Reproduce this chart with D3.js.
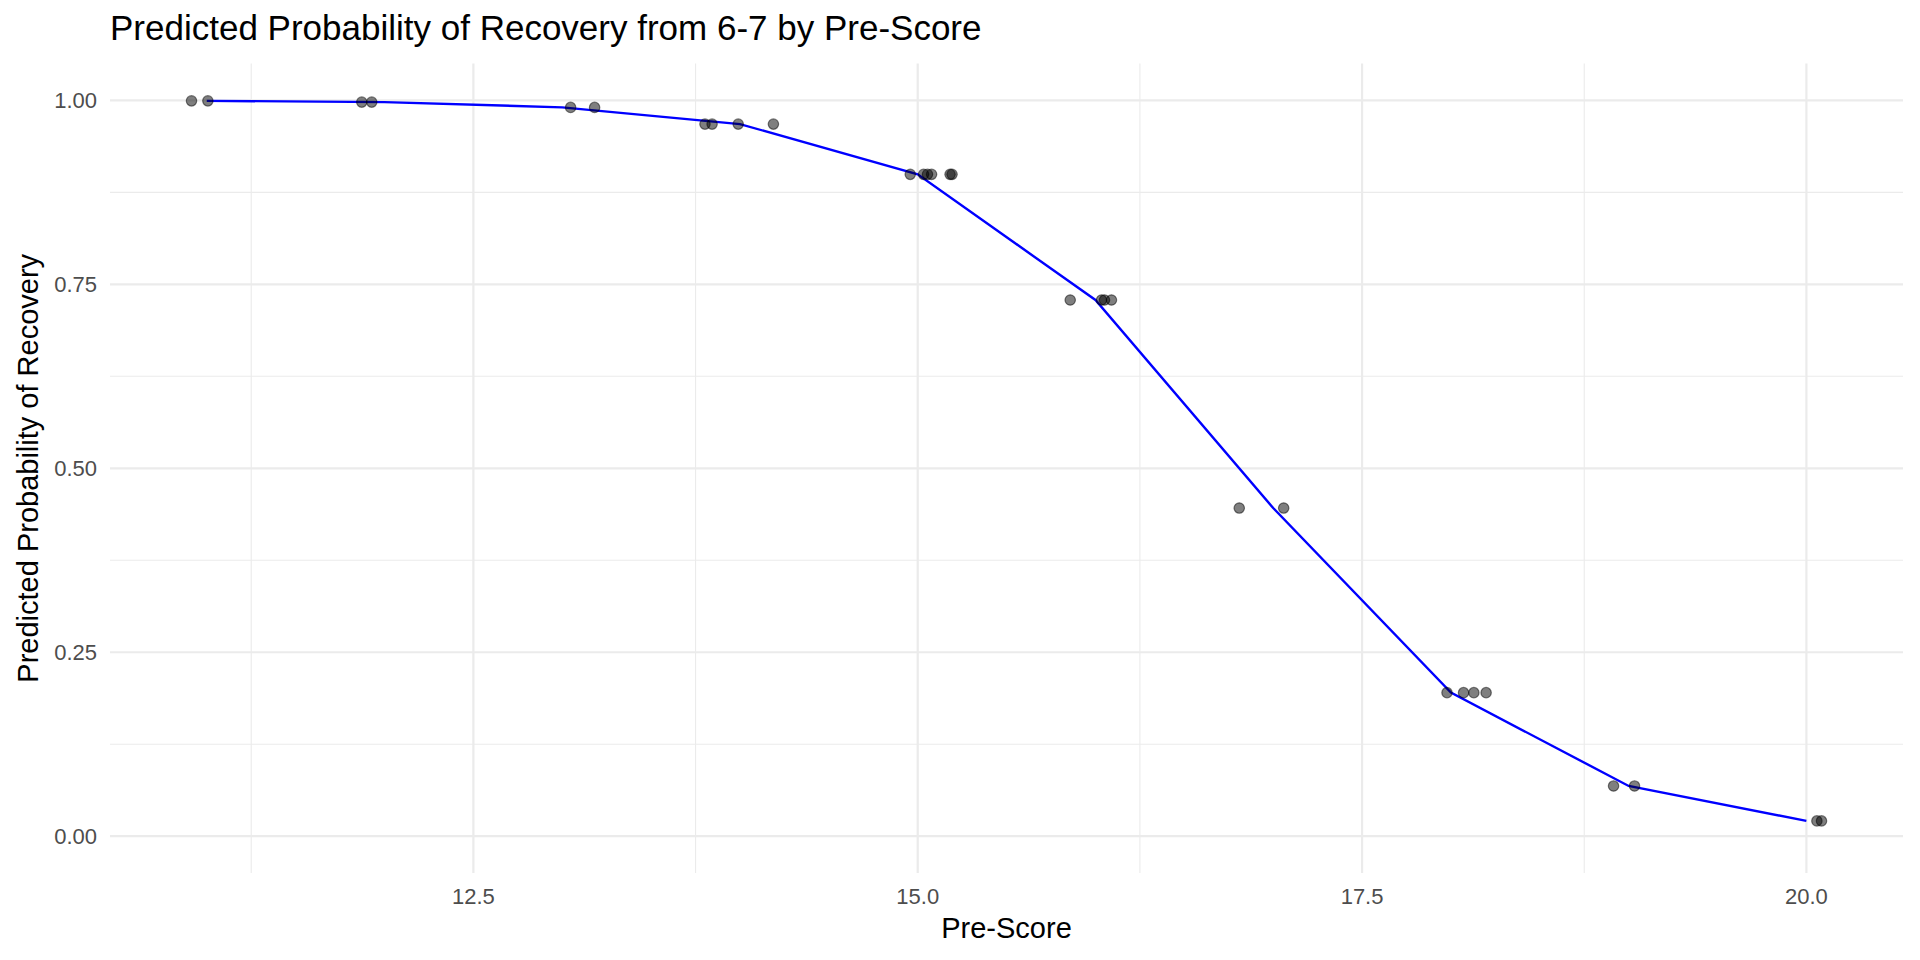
<!DOCTYPE html>
<html>
<head>
<meta charset="utf-8">
<script src="https://cdnjs.cloudflare.com/ajax/libs/d3/7.8.5/d3.min.js"></script>
<style>
  html, body { margin: 0; padding: 0; background: #fff; }
  svg { display: block; font-family: "Liberation Sans", Arial, sans-serif; }
</style>
</head>
<body>
<svg class="canvas"></svg>
<script>
// fitted curve, one value per whole pre-score
var preScore = [11, 12, 13, 14, 15, 16, 17, 18, 19, 20]
var predProb = [0.9994, 0.9977, 0.9905, 0.9678, 0.8995, 0.7287, 0.446, 0.1951, 0.0683, 0.0208]

// observed cases (jittered sideways)
var pointScore = [10.914, 11.006,
    11.872, 11.928,
    13.047, 13.182,
    13.803, 13.843, 13.990, 14.188,
    14.958, 15.033, 15.055, 15.078, 15.182, 15.193,
    15.858, 16.034, 16.051, 16.090,
    16.809, 17.059,
    17.978, 18.071, 18.129, 18.198,
    18.915, 19.033,
    20.059, 20.085]
var pointProb = [0.9994, 0.9994,
    0.9977, 0.9977,
    0.9905, 0.9905,
    0.9678, 0.9678, 0.9678, 0.9678,
    0.8995, 0.8995, 0.8995, 0.8995, 0.8995, 0.8995,
    0.7287, 0.7287, 0.7287, 0.7287,
    0.446, 0.446,
    0.1951, 0.1951, 0.1951, 0.1951,
    0.0683, 0.0683,
    0.0208, 0.0208]

var xMajor = [12.5, 15, 17.5, 20]
var xMinor = [11.25, 13.75, 16.25, 18.75]
var yMajor = [0, 0.25, 0.5, 0.75, 1]
var yMinor = [0.125, 0.375, 0.625, 0.875]

var width = 1920
var height = 960
// panel edges (window.top is reserved, so prefix them)
var pLeft = 110, pRight = 1903, pTop = 63.6, pBottom = 873

var svg = d3.select('.canvas')
    .attr('width', width)
    .attr('height', height)

// ggplot style 5% expansion
var ext = d3.extent(pointScore.concat(preScore))
var pad = (ext[1] - ext[0]) * 0.05
var x = d3.scaleLinear().domain([ext[0] - pad, ext[1] + pad]).range([pLeft, pRight])
var y = d3.scaleLinear().domain([-0.05, 1.05]).range([pBottom, pTop])

var grid = svg.append('g')
grid.selectAll('.xmin').data(xMinor).enter().append('line')
    .attr('x1', d => x(d)).attr('x2', d => x(d))
    .attr('y1', pTop).attr('y2', pBottom)
    .attr('stroke', '#ebebeb').attr('stroke-width', 1.1)
grid.selectAll('.ymin').data(yMinor).enter().append('line')
    .attr('y1', d => y(d)).attr('y2', d => y(d))
    .attr('x1', pLeft).attr('x2', pRight)
    .attr('stroke', '#ebebeb').attr('stroke-width', 1.1)
grid.selectAll('.xmaj').data(xMajor).enter().append('line')
    .attr('x1', d => x(d)).attr('x2', d => x(d))
    .attr('y1', pTop).attr('y2', pBottom)
    .attr('stroke', '#ebebeb').attr('stroke-width', 2.2)
grid.selectAll('.ymaj').data(yMajor).enter().append('line')
    .attr('y1', d => y(d)).attr('y2', d => y(d))
    .attr('x1', pLeft).attr('x2', pRight)
    .attr('stroke', '#ebebeb').attr('stroke-width', 2.2)

// tick labels
svg.append('g').selectAll('text').data(xMajor).enter().append('text')
    .attr('x', d => x(d))
    .attr('y', 904)
    .attr('text-anchor', 'middle')
    .attr('font-size', 22)
    .attr('fill', '#4d4d4d')
    .text(d => d3.format('.1f')(d))

svg.append('g').selectAll('text').data(yMajor).enter().append('text')
    .attr('x', 97)
    .attr('y', d => y(d) + 8)
    .attr('text-anchor', 'end')
    .attr('font-size', 22)
    .attr('fill', '#4d4d4d')
    .text(d => d3.format('.2f')(d))

// fitted line
var line = d3.line()
    .x((d, i) => x(preScore[i]))
    .y(d => y(d))
svg.append('path')
    .datum(predProb)
    .attr('d', line)
    .attr('fill', 'none')
    .attr('stroke', '#0000ff')
    .attr('stroke-width', 2.4)

// points
svg.append('g').selectAll('circle').data(pointScore).enter().append('circle')
    .attr('cx', d => x(d))
    .attr('cy', (d, i) => y(pointProb[i]))
    .attr('r', 5.2)
    .attr('fill', '#000')
    .attr('fill-opacity', 0.5)
    .attr('stroke', '#000')
    .attr('stroke-opacity', 0.5)
    .attr('stroke-width', 1.2)

// titles
svg.append('text')
    .attr('x', 110)
    .attr('y', 40)
    .attr('font-size', 35)
    .attr('fill', '#000')
    .text('Predicted Probability of Recovery from 6-7 by Pre-Score')

svg.append('text')
    .attr('x', (pLeft + pRight) / 2)
    .attr('y', 938)
    .attr('text-anchor', 'middle')
    .attr('font-size', 29)
    .attr('fill', '#000')
    .text('Pre-Score')

svg.append('text')
    .attr('transform', 'translate(38,' + (pTop + pBottom) / 2 + ') rotate(-90)')
    .attr('text-anchor', 'middle')
    .attr('font-size', 29)
    .attr('fill', '#000')
    .text('Predicted Probability of Recovery')
</script>
</body>
</html>
